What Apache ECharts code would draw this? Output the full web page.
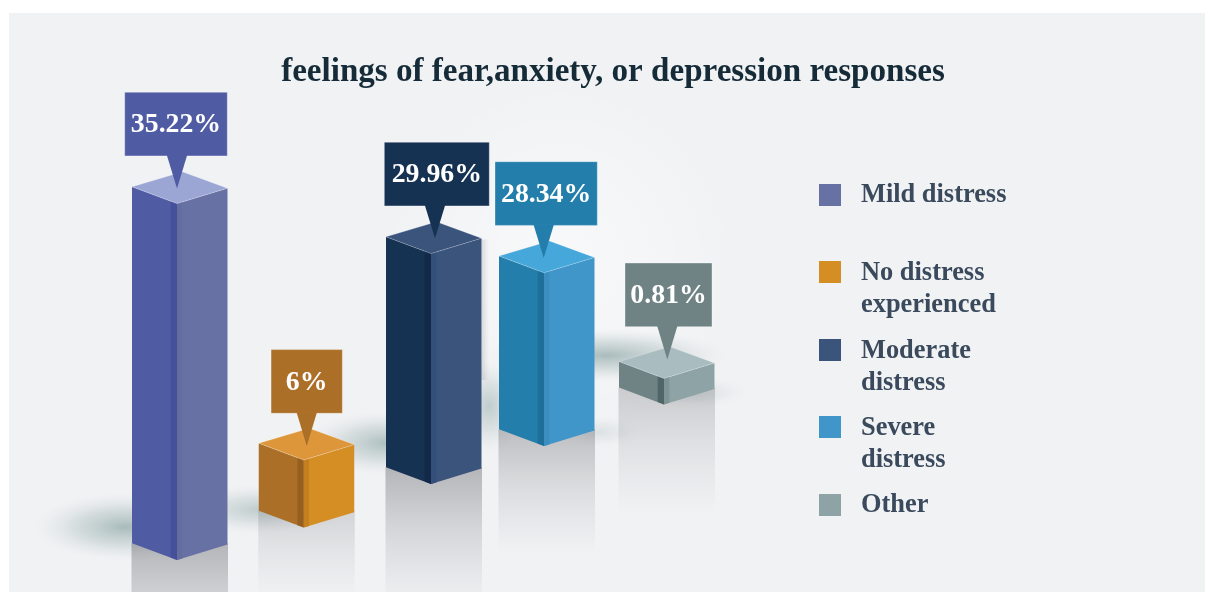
<!DOCTYPE html>
<html>
<head>
<meta charset="utf-8">
<style>html,body{margin:0;padding:0;background:#fff}#c{width:1205px;height:592px}</style>
<script src="https://cdn.jsdelivr.net/npm/echarts@6/dist/echarts.min.js"></script>
</head>
<body>
<div id="c"></div>
<script>
// ---- data ----
const chartTitle = 'feelings of fear,anxiety, or depression responses';
const categories = ['Mild distress', 'No distress experienced', 'Moderate distress', 'Severe distress', 'Other'];
const legendLabels = ['Mild distress', 'No distress\nexperienced', 'Moderate\ndistress', 'Severe\ndistress', 'Other'];
const percentValues = [35.22, 6, 29.96, 28.34, 0.81];
// the infographic's floating columns: front-edge bottom and top, in drawn height units
const barBottom = [8, 16.1, 27, 36.5, 46.9];
const barTop = [97.1, 33, 84.6, 79.8, 53.4];

// ---- styling and layout ----
const SERIF = '"Liberation Serif"';
const palette = [
  {left:'#4f5ba3', stripL:'#45509a', stripR:'#636e9f', right:'#6871a3', top:'#9ba6d5', call:'#4f5ba3', edge:'rgba(255,255,255,.35)'},
  {left:'#ac6f28', stripL:'#965f20', stripR:'#c67f1e', right:'#d48e24', top:'#dd963a', call:'#ac6f28', edge:'rgba(255,255,255,.35)'},
  {left:'#163252', stripL:'#122a47', stripR:'#34507a', right:'#3b547c', top:'#3b547c', call:'#163252', edge:'rgba(255,255,255,.3)'},
  {left:'#237eab', stripL:'#1e6f99', stripR:'#3b8ebf', right:'#4096c8', top:'#46a7db', call:'#237eab', edge:'rgba(255,255,255,.3)'},
  {left:'#6f8385', stripL:'#506566', stripR:'#7d9394', right:'#8da3a5', top:'#a9bcc0', call:'#6f8385', edge:'rgba(255,255,255,.3)'}
];
const nudge = [0, 5, 10.5, 1.75, 0];
const callW = [102.6, 71.3, 105, 102.3, 87];
const callDx = [-52.3, -35.7, -50.7, -48.7, -42.3];
const tipDx = [0, 3, 4, -0.3, 3.3];
const tipDy = [15, 14, 15, 14.7, 19];
const reflectLen = [125, 72, 125, 108, 110];
const reflectA = [.4, .2, .4, .34, .26];
// soft floor shadows per column: dx, dy from the front-bottom corner, rx, ry, alpha
const floorShadows = [
  [[-52, -33, 92, 34, .6]],
  [[-44, -18, 84, 25, .42]],
  [[-46, -41, 80, 32, .55], [58, -78, 36, 48, .42]],
  [[56, -14, 42, 16, .18]],
  [[-58, -49, 122, 27, .6], [28, -12, 58, 16, .22]]
];
const swatchTop = [184, 261, 339, 416, 494];
const L = 45, R = 50.5, D = 16.8, RD = 15.4, BK = 31.8;

function poly(points, fill, stroke) {
  return {type:'polygon', shape:{points}, style:{fill, stroke:stroke||null, lineWidth:stroke?0.8:0}};
}
function barRenderer(i) {
  return function (params, api) {
    const p = api.coord([api.value(0), api.value(1)]);
    const q = api.coord([api.value(0), api.value(2)]);
    const F = p[0] + nudge[i], yB = p[1], yT = q[1];
    const c = palette[i];
    const kids = [
      poly([[F-L,yT-D],[F,yT],[F,yB],[F-L,yB-D]], c.left),
      poly([[F+R,yT-RD],[F,yT],[F,yB],[F+R,yB-RD]], c.right),
      poly([[F-6.3,yT-2.4],[F,yT],[F,yB],[F-6.3,yB-2.4]], c.stripL),
      poly([[F,yT],[F+5.3,yT-1.6],[F+5.3,yB-1.6],[F,yB]], c.stripR),
      poly([[F-L,yT-D],[F,yT],[F+R,yT-RD],[F+R-L,yT-BK]], c.top, c.edge)
    ];
    const tx = F + tipDx[i], ty = yT - tipDy[i];
    const rb = ty - 32.7, rt = rb - 63.7, rl = tx + callDx[i];
    kids.push({type:'rect', shape:{x:rl,y:rt,width:callW[i],height:63.7},
      style:{fill:c.call, stroke:'rgba(255,255,255,.35)', lineWidth:1}});
    kids.push(poly([[tx-10.2,rb-1],[tx+10.2,rb-1],[tx,ty]], c.call));
    kids.push({type:'text', style:{
      text: api.value(3) + '%', x: rl + callW[i]/2, y: rt + 33, fill:'#ffffff',
      fontFamily:SERIF, fontWeight:'bold', fontSize:27.8, align:'center', verticalAlign:'middle'}});
    return {type:'group', children:kids};
  };
}
function shadowRenderer(params, api) {
  const i = api.value(0);
  const p = api.coord([i, api.value(1)]);
  const F = p[0] + nudge[i], yB = p[1];
  const kids = [];
  floorShadows[i].forEach(s => {
    kids.push({type:'circle', x:F+s[0], y:yB+s[1], scaleY:s[3]/s[2], shape:{cx:0,cy:0,r:s[2]},
      style:{fill:{type:'radial',x:.5,y:.5,r:.5,colorStops:[
        {offset:0,color:'rgba(120,150,150,'+s[4]+')'},
        {offset:.5,color:'rgba(140,165,165,'+(s[4]*.5)+')'},
        {offset:1,color:'rgba(200,210,210,0)'}]}}});
  });
  const a = reflectA[i];
  kids.push({type:'rect', shape:{x:F-L-.5,y:yB-D,width:L+R+1,height:reflectLen[i]+D},
    style:{fill:{type:'linear',x:0,y:0,x2:0,y2:1,colorStops:[
      {offset:0,color:'rgba(90,90,95,'+a+')'},
      {offset:.4,color:'rgba(90,90,95,'+(a*.5)+')'},
      {offset:1,color:'rgba(120,120,125,0)'}]}}});
  if (i === 2) {
    const t = api.coord([i, api.value(2)]);
    kids.push({type:'rect', shape:{x:F+R,y:t[1]-14,width:8,height:yB-t[1]-90},
      style:{fill:{type:'linear',x:0,y:0,x2:1,y2:0,colorStops:[
        {offset:0,color:'rgba(120,120,120,.24)'},{offset:1,color:'rgba(160,160,160,0)'}]}}});
  }
  return {type:'group', children:kids};
}

const rows = categories.map((c, i) => [i, barBottom[i], barTop[i], percentValues[i]]);
const series = [{
  name:'floor shadows', type:'custom', z:1, silent:true, clip:false,
  renderItem:shadowRenderer, data:rows, encode:{x:0,y:[1,2]}
}];
categories.forEach((name, i) => series.push({
  name, type:'custom', z:3, silent:true, clip:false,
  itemStyle:{color:palette[i].right},
  renderItem:barRenderer(i), data:[rows[i]], encode:{x:0,y:[1,2]}
}));

// one legend block per entry so that each swatch lines up with the first text line
const legends = categories.map((name, i) => {
  const two = legendLabels[i].indexOf('\n') >= 0;
  return {
    left:819, top: two ? swatchTop[i] - 5 : swatchTop[i] - 6, orient:'vertical', padding:0,
    itemWidth:22, itemHeight: two ? 66 : 22,
    icon: two ? 'path://M0 0L22 0M0 5H22V27H0ZM0 66L22 66' : 'rect',
    selectedMode:false, data:[name],
    formatter:n => legendLabels[categories.indexOf(n)],
    textStyle:{fontFamily:SERIF, fontWeight:'bold', fontSize:26.4, lineHeight:32,
      color:'#3a4a5c', padding:[2,0,0,15]}
  };
});

const chart = echarts.init(document.getElementById('c'), null, {renderer:'canvas'});
chart.setOption({
  animation:false,
  backgroundColor:'#ffffff',
  title:{text:chartTitle, left:608, textAlign:'center', top:51,
    textStyle:{fontFamily:SERIF, fontWeight:'bold', fontSize:33.1, color:'#152b38'}},
  graphic:[
    {type:'rect', z:-10, shape:{x:9,y:13,width:1196,height:579}, style:{fill:'#f1f2f4'}},
    {type:'circle', z:-9, shape:{cx:560,cy:260,r:180}, style:{fill:{type:'radial',x:.5,y:.5,r:.5,
      colorStops:[{offset:0,color:'rgba(255,255,255,.55)'},{offset:1,color:'rgba(255,255,255,0)'}]}}}
  ],
  grid:{left:116.125, width:608.75, top:0, height:592},
  xAxis:{type:'category', data:categories, show:false},
  yAxis:{type:'value', min:0, max:148, show:false},
  legend:legends,
  series
});
</script>
</body>
</html>
